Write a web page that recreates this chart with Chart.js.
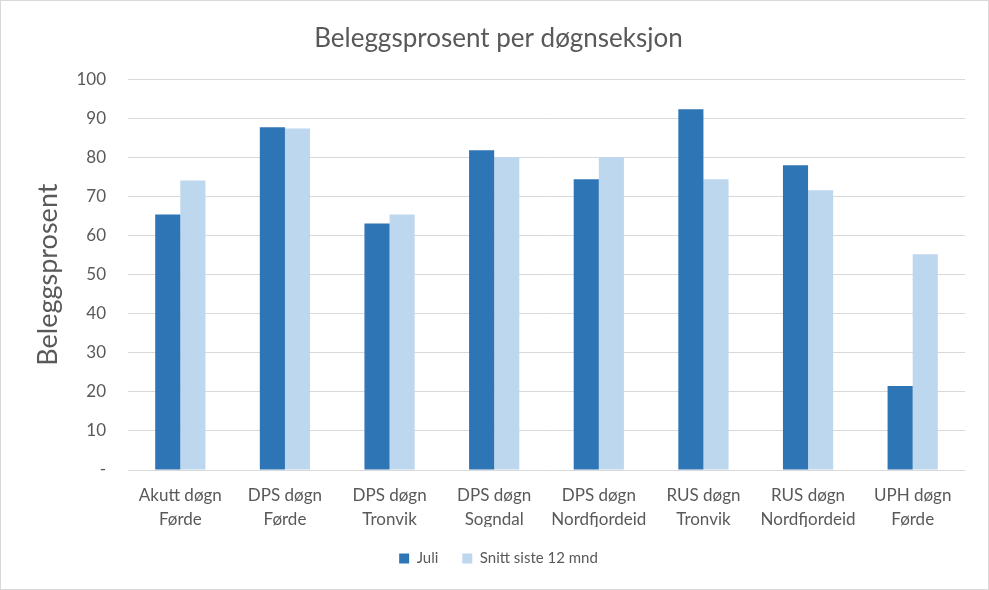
<!DOCTYPE html>
<html lang="no">
<head>
  <meta charset="UTF-8">
  <title>Beleggsprosent per døgnseksjon</title>
  <style>
body {
  margin: 0;
  padding: 0;
  background: #ffffff;
}

.chart-box {
  width: 989px;
  height: 590px;
  box-sizing: border-box;
  border: 1px solid #d9d9d9;
  background: #ffffff;
}
  </style>
</head>
<body>

  <div class="chart-box">
    <canvas id="belegg" width="987" height="588"></canvas>
  </div>

  <script src="https://cdn.jsdelivr.net/npm/chart.js"></script>

  <script>
    // Kategorier og verdier lest av figuren
    const seksjoner = [
      ['Akutt døgn', 'Førde'],
      ['DPS døgn', 'Førde'],
      ['DPS døgn', 'Tronvik'],
      ['DPS døgn', 'Sogndal'],
      ['DPS døgn', 'Nordfjordeid'],
      ['RUS døgn', 'Tronvik'],
      ['RUS døgn', 'Nordfjordeid'],
      ['UPH døgn', 'Førde']
    ];
    const juli = [65.4, 87.7, 63.1, 81.8, 74.4, 92.3, 78.0, 21.5];
    const snitt12 = [74.1, 87.4, 65.4, 80.0, 80.0, 74.4, 71.6, 55.2];

    const textColor = '#595959';
    const gridColor = '#d9d9d9';
    const fontName = 'Lato, "Liberation Sans", sans-serif';

    const ctx = document.getElementById('belegg').getContext('2d');

    new Chart(ctx, {
      type: 'bar',
      data: {
        labels: seksjoner,
        datasets: [
          {
            label: 'Juli',
            data: juli,
            backgroundColor: '#2e75b6',
            categoryPercentage: 0.48,
            barPercentage: 1.0
          },
          {
            label: 'Snitt siste 12 mnd',
            data: snitt12,
            backgroundColor: '#bdd7ee',
            categoryPercentage: 0.48,
            barPercentage: 1.0
          }
        ]
      },
      options: {
        responsive: false,
        animation: false,
        layout: {
          padding: { left: 31, right: 23, top: 0, bottom: 13 }
        },
        plugins: {
          title: {
            display: true,
            text: 'Beleggsprosent per døgnseksjon',
            color: textColor,
            font: { family: fontName, size: 26, weight: 'normal' },
            padding: { top: 22, bottom: 25 }
          },
          legend: {
            position: 'bottom',
            labels: {
              color: textColor,
              font: { family: fontName, size: 15 },
              boxWidth: 10,
              boxHeight: 10,
              padding: 24
            }
          },
          tooltip: { enabled: false }
        },
        scales: {
          x: {
            grid: { display: false },
            border: { display: false },
            ticks: {
              color: textColor,
              font: { family: fontName, size: 17, lineHeight: 1.41 },
              padding: 6,
              maxRotation: 0
            },
            afterFit: function (scale) { scale.height = 57; }
          },
          y: {
            min: 0,
            max: 100,
            grid: { color: gridColor, drawTicks: false, lineWidth: 1 },
            border: { display: false },
            title: {
              display: true,
              text: 'Beleggsprosent',
              color: textColor,
              font: { family: fontName, size: 27, weight: 'normal' },
              padding: { top: 0, bottom: 0 }
            },
            ticks: {
              stepSize: 10,
              color: textColor,
              font: { family: fontName, size: 17 },
              padding: 22,
              callback: function (value) { return value === 0 ? '-' : value; }
            },
            afterFit: function (scale) { scale.width = 96; }
          }
        }
      }
    });
  </script>

</body>
</html>
